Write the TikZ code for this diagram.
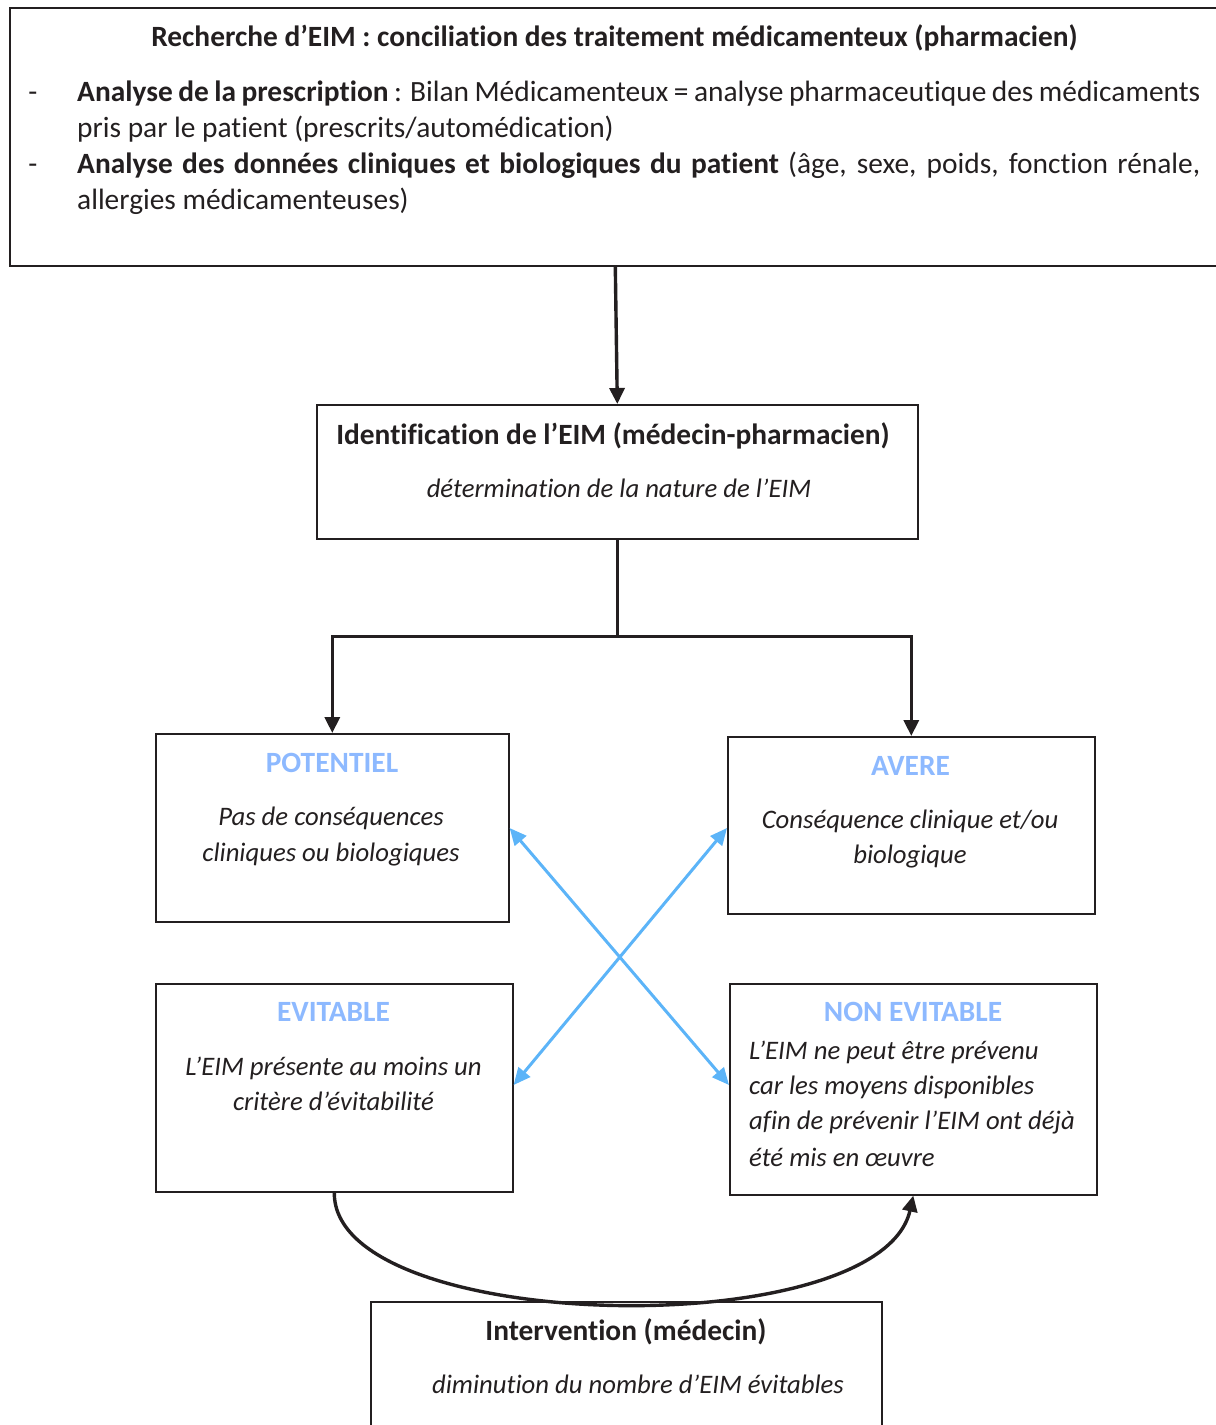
\documentclass[tikz,border=0pt]{standalone}
\usepackage{fontspec}
\setmainfont{Carlito}[Ligatures=NoCommon]
\usetikzlibrary{arrows.meta}
\definecolor{ink}{RGB}{35,31,32}
\definecolor{ttl}{RGB}{141,185,255}
\definecolor{xblue}{RGB}{92,180,248}
\newcommand{\fsz}{\fontsize{29.4}{36}\selectfont}
\newcommand{\fsi}{\fontsize{26.7}{35}\selectfont}
\begin{document}
\begin{tikzpicture}[x=1pt,y=-1pt,
  box/.style={draw=ink,line width=1.6pt,rectangle,inner sep=0pt,anchor=north west},
  txt/.style={inner sep=0pt,anchor=base,text=ink,font=\fsz},
  ltxt/.style={txt,anchor=base west},
  bld/.style={txt,font=\fsz\bfseries},
  head/.style={txt,text=ttl,font=\fsz\bfseries},
  itl/.style={txt,font=\fsi\itshape},
  litl/.style={itl,anchor=base west},
  flow/.style={draw=ink,line width=3.4pt,-{Triangle[length=16pt,width=15pt]}},
  cross/.style={draw=xblue,line width=3pt,{Triangle[length=17pt,width=15pt]}-{Triangle[length=17pt,width=15pt]}}
]
\useasboundingbox (0,0) rectangle (1216,1425);
\clip (0,0) rectangle (1216,1425);
% boxes
\node[box,minimum width=1211pt,minimum height=258pt] (top) at (9,7) {};
\node[box,minimum width=601pt,minimum height=134pt] (ident) at (316,404) {};
\node[box,minimum width=353pt,minimum height=188pt] (pot) at (155,733) {};
\node[box,minimum width=367pt,minimum height=177pt] (ave) at (727,736) {};
\node[box,minimum width=357pt,minimum height=208pt] (evit) at (155,983) {};
\node[box,minimum width=367pt,minimum height=211pt] (nevit) at (729,983) {};
\node[box,minimum width=511pt,minimum height=150pt] (inter) at (370,1301) {};
% top box text
\node[bld] (t0) at (614.5,46) {Recherche d’EIM : conciliation des traitement médicamenteux (pharmacien)};
\node[txt] (d1) at (33,101) {-};
\node[ltxt] (t1) at (77,101) {\makebox[1123pt][s]{\textbf{Analyse de la prescription} : Bilan Médicamenteux = analyse pharmaceutique des médicaments}};
\node[ltxt] (t2) at (77,137) {pris par le patient (prescrits/automédication)};
\node[txt] (d2) at (33,173) {-};
\node[ltxt] (t3) at (77,173) {\makebox[1123pt][s]{\textbf{Analyse des données cliniques et biologiques du patient} (âge, sexe, poids, fonction rénale,}};
\node[ltxt] (t4) at (77,209) {allergies médicamenteuses)};
% ident
\node[bld] (i1) at (613,444) {Identification de l’EIM (médecin-pharmacien)};
\node[itl] (i2) at (619,497) {détermination de la nature de l’EIM};
% potentiel
\node[head] (p0) at (332,772) {POTENTIEL};
\node[itl] (p1) at (331,825) {Pas de conséquences};
\node[itl] (p2) at (331,861) {cliniques ou biologiques};
% avere
\node[head] (a0) at (910.5,775) {AVERE};
\node[itl] (a1) at (910,828) {Conséquence clinique et/ou};
\node[itl] (a2) at (910,863) {biologique};
% evitable
\node[head] (e0) at (333.5,1021) {EVITABLE};
\node[itl] (e1) at (333.5,1075) {L’EIM présente au moins un};
\node[itl] (e2) at (333.5,1110) {critère d’évitabilité};
% non evitable
\node[head] (n0) at (913,1021) {NON EVITABLE};
\node[litl] (n1) at (749,1059) {L’EIM ne peut être prévenu};
\node[litl] (n2) at (749,1094) {car les moyens disponibles};
\node[litl] (n3) at (749,1129) {afin de prévenir l’EIM ont déjà};
\node[litl] (n4) at (749,1166) {été mis en œuvre};
% intervention
\node[bld] (v1) at (626,1340) {Intervention (médecin)};
\node[itl] (v2) at (638,1393) {diminution du nombre d’EIM évitables};
% connectors
\draw[flow] (top.south) -- (ident.north);
\draw[line width=3.4pt,draw=ink] (ident.south) -- ++(0,97) coordinate (fork);
\draw[flow] (fork) -| (pot.north);
\draw[flow] (fork) -| (ave.north);
\draw[cross] ([yshift=-95pt]pot.north east) -- ([yshift=-102pt]nevit.north west);
\draw[cross] ([yshift=-102pt]evit.north east) -- ([yshift=-92pt]ave.north west);
\draw[draw=ink,line width=3.4pt,-{Triangle[length=16pt,width=15pt]}] (evit.south) .. controls (333,1335) and (880,1345) .. (nevit.south);
\end{tikzpicture}
\end{document}
